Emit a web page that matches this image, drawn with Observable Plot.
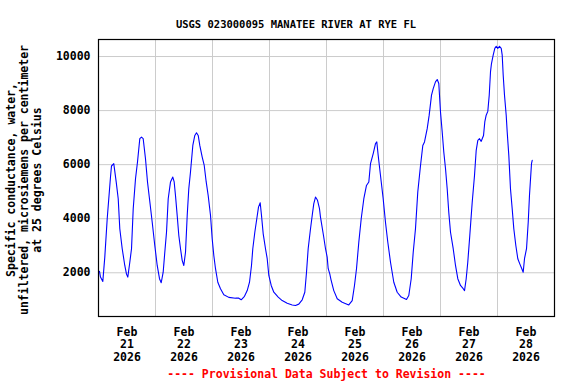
<!DOCTYPE html>
<html><head><meta charset="utf-8">
<script src="https://cdn.jsdelivr.net/npm/d3@7"></script>
<script src="https://cdn.jsdelivr.net/npm/@observablehq/plot@0.6"></script>
<style>html,body{margin:0;padding:0;background:#fff}svg{display:block}</style>
</head><body><div id="chart"></div>
<script>
const title = "USGS 023000095 MANATEE RIVER AT RYE FL";
const yLabel = "Specific conductance, water,\nunfiltered, microsiemens per centimeter\nat 25 degrees Celsius";
const footer = "---- Provisional Data Subject to Revision ----";
const dayLabels = ["2026-02-21","2026-02-22","2026-02-23","2026-02-24","2026-02-25","2026-02-26","2026-02-27","2026-02-28"];
const gridDays = ["2026-02-22","2026-02-23","2026-02-24","2026-02-25","2026-02-26","2026-02-27","2026-02-28"];
const yTicks = [2000, 4000, 6000, 8000, 10000];

const times = [
"2026-02-21T00:25","2026-02-21T00:50","2026-02-21T01:49","2026-02-21T02:39","2026-02-21T03:40","2026-02-21T05:03","2026-02-21T05:28","2026-02-21T06:26","2026-02-21T07:27","2026-02-21T08:18","2026-02-21T08:58","2026-02-21T09:59","2026-02-21T11:04","2026-02-21T11:47","2026-02-21T12:20","2026-02-21T13:11","2026-02-21T13:54","2026-02-21T14:37","2026-02-21T15:35","2026-02-21T16:25","2026-02-21T17:23","2026-02-21T18:06","2026-02-21T18:49","2026-02-21T19:47","2026-02-21T20:38","2026-02-21T21:28","2026-02-21T22:37","2026-02-21T23:42",
"2026-02-22T00:43","2026-02-22T01:41","2026-02-22T02:24","2026-02-22T03:14","2026-02-22T03:55","2026-02-22T04:38","2026-02-22T05:21","2026-02-22T06:19","2026-02-22T07:17","2026-02-22T07:52","2026-02-22T08:25","2026-02-22T09:08","2026-02-22T09:49","2026-02-22T10:32","2026-02-22T11:14","2026-02-22T11:55","2026-02-22T12:38","2026-02-22T13:21","2026-02-22T14:01","2026-02-22T14:44","2026-02-22T15:43","2026-02-22T16:33","2026-02-22T17:16","2026-02-22T17:59","2026-02-22T18:39","2026-02-22T19:40","2026-02-22T20:31","2026-02-22T21:21","2026-02-22T22:11","2026-02-22T23:10","2026-02-22T23:52",
"2026-02-23T00:33","2026-02-23T01:16","2026-02-23T02:14","2026-02-23T03:22","2026-02-23T04:46","2026-02-23T06:52","2026-02-23T09:41","2026-02-23T11:04","2026-02-23T12:05","2026-02-23T13:28","2026-02-23T14:37","2026-02-23T15:35","2026-02-23T16:25","2026-02-23T16:58","2026-02-23T17:49","2026-02-23T18:39","2026-02-23T19:22","2026-02-23T20:05","2026-02-23T20:38","2026-02-23T21:21","2026-02-23T22:19","2026-02-23T23:02","2026-02-23T23:43",
"2026-02-24T00:43","2026-02-24T01:49","2026-02-24T03:40","2026-02-24T05:21","2026-02-24T07:27","2026-02-24T09:34","2026-02-24T10:57","2026-02-24T12:20","2026-02-24T13:46","2026-02-24T14:52","2026-02-24T15:35","2026-02-24T16:17","2026-02-24T17:16","2026-02-24T17:59","2026-02-24T18:39","2026-02-24T19:22","2026-02-24T20:13","2026-02-24T21:03","2026-02-24T21:28","2026-02-24T22:44","2026-02-24T23:35",
"2026-02-25T00:17","2026-02-25T00:43","2026-02-25T01:23","2026-02-25T01:53","2026-02-25T03:04","2026-02-25T04:31","2026-02-25T06:37","2026-02-25T09:23","2026-02-25T10:49","2026-02-25T11:47","2026-02-25T12:38","2026-02-25T13:36","2026-02-25T14:37","2026-02-25T15:43","2026-02-25T16:50","2026-02-25T17:49","2026-02-25T18:32","2026-02-25T19:40","2026-02-25T20:38","2026-02-25T21:11","2026-02-25T21:46","2026-02-25T22:44","2026-02-25T23:52",
"2026-02-26T00:50","2026-02-26T01:49","2026-02-26T02:57","2026-02-26T04:20","2026-02-26T05:46","2026-02-26T07:27","2026-02-26T09:41","2026-02-26T10:39","2026-02-26T11:40","2026-02-26T12:31","2026-02-26T13:28","2026-02-26T14:26","2026-02-26T15:35","2026-02-26T16:33","2026-02-26T17:16","2026-02-26T18:24","2026-02-26T19:14","2026-02-26T20:13","2026-02-26T20:56","2026-02-26T21:53","2026-02-26T22:37","2026-02-26T23:17",
"2026-02-27T00:00","2026-02-27T00:43","2026-02-27T01:23","2026-02-27T02:07","2026-02-27T02:49","2026-02-27T03:29","2026-02-27T04:13","2026-02-27T05:21","2026-02-27T06:19","2026-02-27T07:17","2026-02-27T08:25","2026-02-27T09:34","2026-02-27T10:07","2026-02-27T10:49","2026-02-27T11:29","2026-02-27T12:20","2026-02-27T13:21","2026-02-27T14:19","2026-02-27T15:02","2026-02-27T15:43","2026-02-27T16:25","2026-02-27T17:08","2026-02-27T17:34","2026-02-27T18:07","2026-02-27T18:39","2026-02-27T19:14","2026-02-27T19:55","2026-02-27T20:31","2026-02-27T21:03","2026-02-27T21:28","2026-02-27T22:11","2026-02-27T22:52","2026-02-27T23:27",
"2026-02-28T00:08","2026-02-28T00:50","2026-02-28T01:34","2026-02-28T01:59","2026-02-28T02:24","2026-02-28T02:57","2026-02-28T03:40","2026-02-28T04:05","2026-02-28T04:46","2026-02-28T05:28","2026-02-28T06:11","2026-02-28T06:52","2026-02-28T07:43","2026-02-28T08:33","2026-02-28T09:23","2026-02-28T10:14","2026-02-28T10:49","2026-02-28T11:22","2026-02-28T12:13","2026-02-28T12:56","2026-02-28T13:28","2026-02-28T14:19","2026-02-28T14:37"
];
const conductance = [
2050,1840,1680,2580,4000,5540,5950,6040,5360,4740,3630,2890,2270,1950,1840,2390,2890,4370,5480,6100,6960,7020,6960,6220,5360,4740,3870,3010,
2270,1780,1630,2020,2760,3500,4740,5360,5540,5360,4860,4120,3380,2890,2460,2270,2760,4120,5110,5730,6710,7080,7180,7080,6710,6280,5970,5360,4860,4120,3260,
2640,2150,1650,1410,1190,1090,1060,1060,1000,1130,1340,1650,2270,2890,3500,4000,4430,4590,4120,3440,2890,2520,1900,
1530,1280,1100,970,870,810,790,840,1000,1280,2020,2890,3630,4120,4560,4800,4680,4370,4060,3380,2890,
2580,2150,1960,1750,1340,1040,910,810,970,1530,2150,3130,4000,4740,5230,5360,6040,6410,6780,6840,6340,5600,4740,
3870,3130,2390,1650,1280,1100,1010,1160,1780,2760,3630,4990,5970,6710,6840,7330,7830,8570,8810,9060,9150,9000,
7950,7210,6470,5850,5110,4240,3500,2890,2270,1780,1530,1410,1340,1780,2390,3380,4610,5600,6530,6900,6960,6860,6960,7080,7580,7830,7970,8570,9430,9740,10050,10300,10380,
10300,10380,10300,10050,9310,8570,7830,7210,6340,5110,4370,3630,3010,2520,2330,2150,2020,2520,2890,3870,4860,6040,6160
];

const parseT = d3.utcParse("%Y-%m-%dT%H:%M");
const parseD = d3.utcParse("%Y-%m-%d");
const data = times.map((t, i) => ({time: parseT(t), value: conductance[i]}));
const noons = dayLabels.map(d => d3.utcHour.offset(parseD(d), 12));
const midnights = gridDays.map(parseD);
const fmt = d3.utcFormat("%b\n%d\n%Y");

const chart = Plot.plot({
  width: 576,
  height: 384,
  marginLeft: 98,
  marginRight: 22,
  marginTop: 39,
  marginBottom: 68,
  style: {fontFamily: "'DejaVu Sans Mono', monospace", fontWeight: "bold", fontSize: "11.5px", color: "black", background: "white"},
  x: {type: "utc", domain: [parseD("2026-02-21"), parseD("2026-03-01")]},
  y: {domain: [382, 10630]},
  marks: [
    Plot.ruleX(midnights, {stroke: "#cccccc", strokeWidth: 1}),
    Plot.ruleY(yTicks, {stroke: "#cccccc", strokeWidth: 1}),
    Plot.line(data, {x: "time", y: "value", stroke: "#0000ff", strokeWidth: 1.1}),
    Plot.frame({stroke: "black", strokeWidth: 1.2}),
    Plot.axisX(noons, {tickSize: 0, tickPadding: 10, tickFormat: fmt, lineHeight: 1.11, fontSize: 11.5, fill: "black", label: null}),
    Plot.axisY(yTicks, {tickSize: 0, tickPadding: 8, tickFormat: d => String(d), fontSize: 11.5, fill: "black", label: null}),
    Plot.text([title], {text: d => d, frameAnchor: "top", dx: -30.5, dy: -18.7, fontSize: 10.5, fill: "black"}),
    Plot.text([yLabel], {text: d => d, frameAnchor: "left", textAnchor: "middle", rotate: -90, dx: -74.5, dy: 2, lineHeight: 1.15, fontSize: 11.5, fill: "black"}),
    Plot.text([footer], {text: d => d, frameAnchor: "bottom", dy: 61, fontSize: 11.5, fill: "#ff0000"})
  ]
});
document.getElementById("chart").appendChild(chart);
</script>
</body></html>
